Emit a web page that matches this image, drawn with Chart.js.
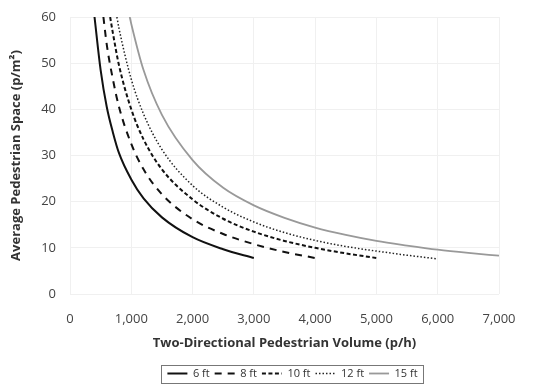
<!DOCTYPE html>
<html>
<head>
<meta charset="utf-8">
<script src="https://cdn.jsdelivr.net/npm/chart.js@4"></script>
<style>
  html, body { margin: 0; padding: 0; background: #fff; }
  #wrap { width: 533px; height: 389px; position: relative; }
</style>
</head>
<body>
<div id="wrap"><canvas id="chart"></canvas></div>
<script>
// values
const volume6 = [400, 500, 600, 700, 800, 1000, 1200, 1500, 2000, 2500, 3000];
const space6 = [60, 48.5, 40.5, 35, 30.5, 24.8, 20.7, 16.6, 12.3, 9.7, 7.8];

const volume8 = [545, 600, 700, 800, 1000, 1200, 1500, 2000, 2500, 3000, 3500, 4000];
const space8 = [60, 54, 46.5, 40.5, 32.5, 27, 21.6, 16.2, 13, 10.8, 9.1, 7.8];

const volume10 = [655, 700, 800, 1000, 1200, 1500, 2000, 2500, 3000, 3500, 4000, 4500, 5000];
const space10 = [60, 56.5, 49.5, 40, 33.5, 27, 20.5, 16.3, 13.5, 11.5, 10, 8.8, 7.8];

const volume12 = [765, 800, 1000, 1200, 1500, 2000, 2500, 3000, 3500, 4000, 4500, 5000, 5500, 6000];
const space12 = [60, 57.5, 46.5, 39, 31.3, 23.5, 18.8, 15.6, 13.3, 11.6, 10.3, 9.3, 8.4, 7.6];

const volume15 = [975, 1000, 1200, 1500, 2000, 2500, 3000, 3500, 4000, 4500, 5000, 5500, 6000, 6500, 7000];
const space15 = [60, 58.5, 48.5, 38.8, 29, 23, 19.2, 16.5, 14.4, 12.8, 11.5, 10.5, 9.6, 8.9, 8.3];

const seriesNames = ['6 ft', '8 ft', '10 ft', '12 ft', '15 ft'];
const xTicks = [0, 1000, 2000, 3000, 4000, 5000, 6000, 7000];
const yTicks = [0, 10, 20, 30, 40, 50, 60];

const toPoints = (xs, ys) => xs.map((x, i) => ({ x: x, y: ys[i] }));

// Excel centres the legend under the plot, not the whole canvas
const LEGEND_SHIFT = 39;

// moves the legend and draws the thin frame round it
const legendFrame = {
  id: 'legendFrame',
  afterLayout(chart) {
    const lg = chart.legend;
    lg.left += LEGEND_SHIFT;
    lg.right += LEGEND_SHIFT;
  },
  afterDraw(chart) {
    const lg = chart.legend;
    if (!lg || !lg.lineWidths || !lg.legendHitBoxes.length) return;
    const pad = lg.options.labels.padding;
    const rowW = lg.lineWidths[0];
    const start = (lg.left + pad + lg.right - rowW) / 2;
    const box = lg.legendHitBoxes[0];
    const midY = box.top + box.height / 2;
    const left = Math.round(start - 6) + 0.5;
    const right = Math.round(start + rowW - pad + 5) + 0.5;
    const ctx = chart.ctx;
    ctx.save();
    ctx.strokeStyle = '#777';
    ctx.lineWidth = 1;
    ctx.strokeRect(left, Math.round(midY - 9) + 0.5, right - left, 18);
    ctx.restore();
  }
};

const lineStyle = (color, width, dash) => ({
  borderColor: color,
  backgroundColor: color,
  borderWidth: width,
  borderDash: dash,
  pointRadius: 0,
  pointHoverRadius: 0,
  pointStyle: 'line',
  showLine: true,
  fill: false,
  cubicInterpolationMode: 'monotone'
});

new Chart(document.getElementById('chart'), {
  type: 'scatter',
  data: {
    datasets: [
      { label: seriesNames[0], data: toPoints(volume6, space6), ...lineStyle('#111', 2, []) },
      { label: seriesNames[1], data: toPoints(volume8, space8), ...lineStyle('#111', 2, [7, 6]) },
      { label: seriesNames[2], data: toPoints(volume10, space10), ...lineStyle('#111', 2, [4, 2.5]) },
      { label: seriesNames[3], data: toPoints(volume12, space12), ...lineStyle('#222', 1.5, [1.5, 2]) },
      { label: seriesNames[4], data: toPoints(volume15, space15), ...lineStyle('#999', 1.8, []) }
    ]
  },
  options: {
    responsive: true,
    maintainAspectRatio: false,
    animation: false,
    layout: { padding: { left: 8, right: 34, top: 17, bottom: 0 } },
    plugins: {
      tooltip: { enabled: false },
      legend: {
        position: 'bottom',
        labels: {
          usePointStyle: true,
          pointStyle: 'line',
          pointStyleWidth: 20,
          boxHeight: 8,
          padding: 5,
          color: '#333',
          font: { family: 'Open Sans', size: 11 },
          generateLabels: chart => {
            const items = Chart.defaults.plugins.legend.labels.generateLabels(chart);
            items.forEach(it => {
              const ds = chart.data.datasets[it.datasetIndex];
              it.lineDash = ds.borderDash;
              it.lineWidth = ds.borderWidth;
              it.strokeStyle = ds.borderColor;
            });
            return items;
          }
        }
      }
    },
    scales: {
      x: {
        type: 'linear',
        min: 0,
        max: 7000,
        afterBuildTicks: s => { s.ticks = xTicks.map(v => ({ value: v })); },
        afterFit: s => { s.height = 69; },
        ticks: {
          color: '#444',
          padding: 17,
          maxRotation: 0,
          font: { family: 'Open Sans', size: 13 },
          callback: v => v.toLocaleString('en-US')
        },
        grid: { color: '#f0f0f0', drawTicks: false },
        border: { display: false },
        title: {
          display: true,
          text: 'Two-Directional Pedestrian Volume (p/h)',
          color: '#333',
          font: { family: 'Open Sans', size: 13, weight: 'bold' },
          padding: { top: 2, bottom: 12 }
        }
      },
      y: {
        min: 0,
        max: 60,
        afterBuildTicks: s => { s.ticks = yTicks.map(v => ({ value: v })); },
        afterFit: s => { s.width = 62; s.paddingTop = 0; s.paddingBottom = 0; },
        ticks: {
          color: '#444',
          padding: 14,
          font: { family: 'Open Sans', size: 13 }
        },
        grid: { color: '#f0f0f0', drawTicks: false },
        border: { display: false },
        title: {
          display: true,
          text: 'Average Pedestrian Space (p/m²)',
          color: '#333',
          font: { family: 'Open Sans', size: 13, weight: 'bold' },
          padding: { top: 0, bottom: 4 }
        }
      }
    }
  },
  plugins: [legendFrame]
});
</script>
</body>
</html>
